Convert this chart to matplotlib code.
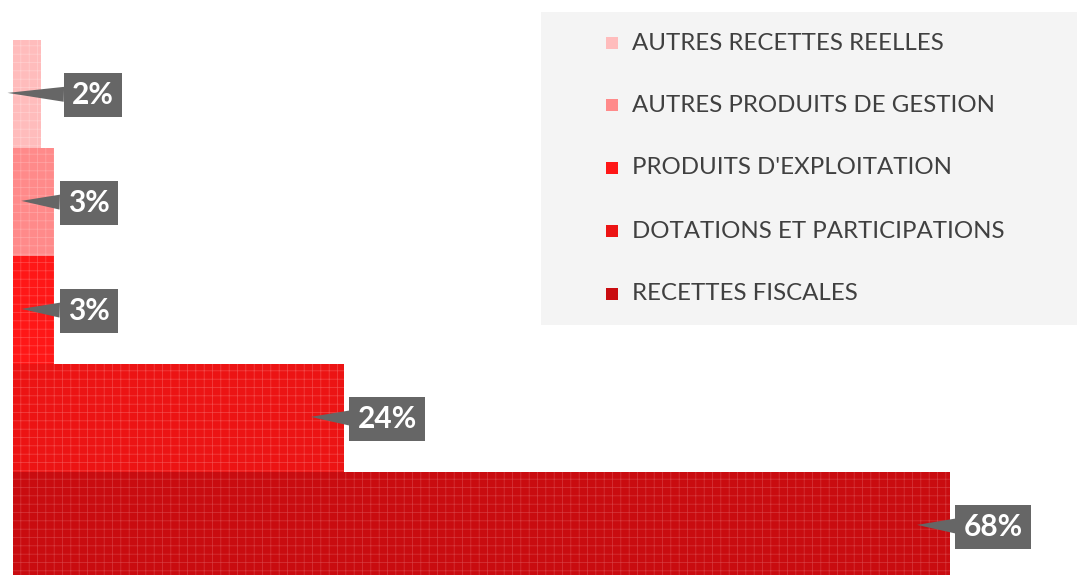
import matplotlib.pyplot as plt
import matplotlib.patches as mpatches

# Categories, bottom to top
categories = ['RECETTES FISCALES', 'DOTATIONS ET PARTICIPATIONS',
              "PRODUITS D'EXPLOITATION", 'AUTRES PRODUITS DE GESTION',
              'AUTRES RECETTES REELLES']
values = [68, 24, 3, 3, 2]
labels = ['68%', '24%', '3%', '3%', '2%']
colors = ['#c90c10', '#ec1414', '#ff1717', '#ff8a8a', '#ffbcbc']
hatch_colors = ['#d63a3e', '#f24a4a', '#ff4c4c', '#ffa6a6', '#ffd0d0']
# horizontal gap between bar end and callout box (in %)
label_dx = [1.0, 1.0, 1.0, 1.0, 2.3]

plt.rcParams['font.family'] = ['Lato', 'DejaVu Sans']
plt.rcParams['hatch.linewidth'] = 0.5

fig = plt.figure(figsize=(10.77, 5.75), dpi=100)
ax = fig.add_axes([0, 0, 1, 1])

ypos = list(range(len(categories)))
for y, v, c, hc in zip(ypos, values, colors, hatch_colors):
    ax.barh(y, v, height=1.0, color=c, edgecolor=hc, linewidth=0, hatch='++')

# Callout labels
for y, v, lab, dx in zip(ypos, values, labels, label_dx):
    ax.annotate(lab, xy=(v - 2.4, y + 0.01), xytext=(v + dx, y - 0.01),
                ha='left', va='center', color='white', fontsize=21.5,
                fontweight='bold', annotation_clip=False,
                bbox=dict(boxstyle='square,pad=0.28', fc='#666666', ec='none'),
                arrowprops=dict(arrowstyle='wedge,tail_width=0.5',
                                fc='#666666', ec='none', shrinkA=0, shrinkB=0))

ax.set_xlim(-13 / 13.78, (1077 - 13) / 13.78)
ax.set_ylim(-0.454, 4.87)
ax.axis('off')

# Legend panel
fig.patches.append(mpatches.Rectangle((541 / 1077, 1 - 325 / 575),
                                      536 / 1077, 313 / 575,
                                      transform=fig.transFigure,
                                      fc='#f4f4f4', ec='none', zorder=0))
leg_y = [294, 231, 168, 105, 43]
for cat, c, hc, ly in zip(categories, colors, hatch_colors, leg_y):
    fig.patches.append(mpatches.Rectangle((606 / 1077, 1 - (ly + 6) / 575),
                                          12 / 1077, 12 / 575,
                                          transform=fig.transFigure,
                                          fc=c, ec='none', zorder=2))
    fig.text(632 / 1077, 1 - ly / 575, cat, ha='left', va='center',
             fontsize=17.3, color='#404040')

plt.savefig('out.png', dpi=100)
